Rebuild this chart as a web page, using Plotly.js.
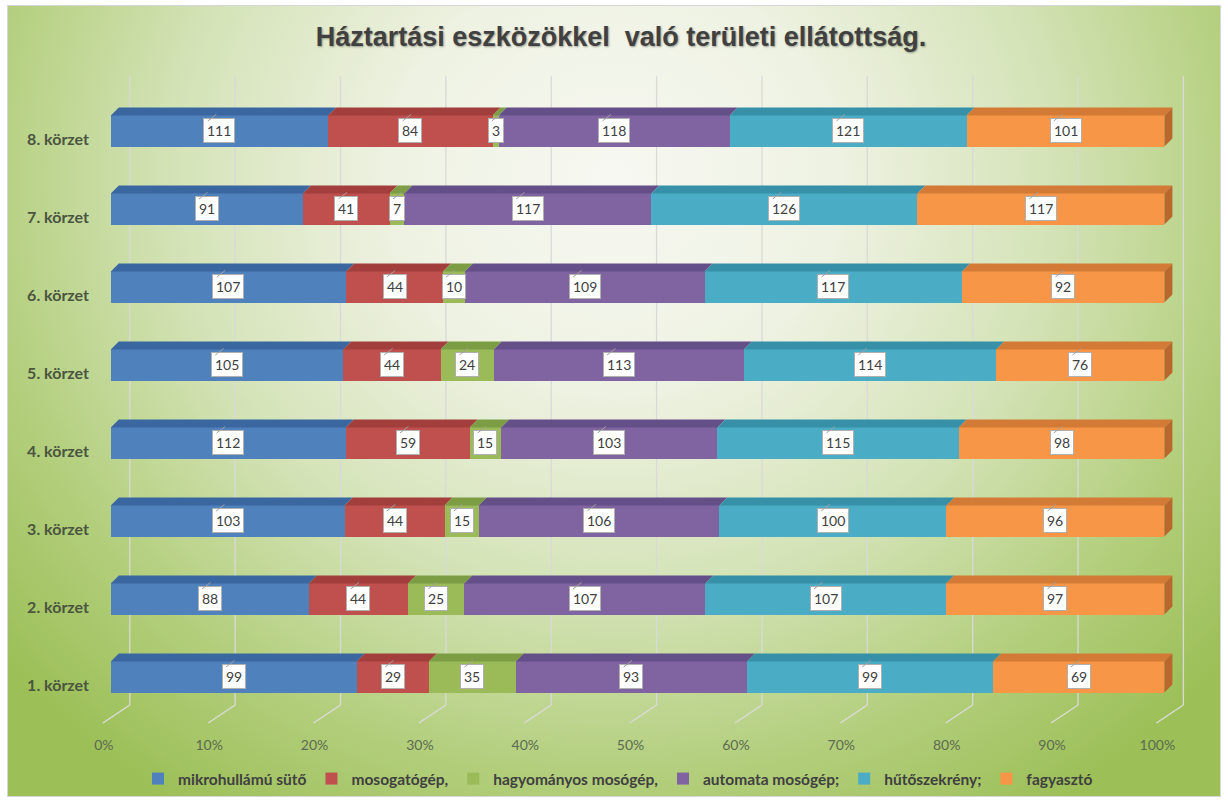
<!DOCTYPE html>
<html><head><meta charset="utf-8">
<script src="https://cdn.plot.ly/plotly-3.0.1.min.js"></script>
<style>
html,body{margin:0;padding:0;background:#fff;overflow:hidden;}
#frame{position:absolute;left:7px;top:5px;width:1212px;height:790px;border:1px solid #d6d6d6;
background:radial-gradient(ellipse 66% 95% at 50% 22%, #f7f8f2 0%, #eef2e2 28%, #d4e3b7 55%, #b2ce7b 80%, #9cbf57 100%);}
#chart{position:absolute;left:0;top:0;width:1228px;height:800px;}
</style></head>
<body><div id="frame"></div><div id="chart"></div>
<script>
// ---- data ----
const districts = ['1. körzet','2. körzet','3. körzet','4. körzet','5. körzet','6. körzet','7. körzet','8. körzet'];
const seriesNames = ['mikrohullámú sütő','mosogatógép,','hagyományos mosógép,','automata mosógép;','hűtőszekrény;','fagyasztó'];
const microwave        = [99, 88, 103, 112, 105, 107, 91, 111];
const dishwasher       = [29, 44, 44, 59, 44, 44, 41, 84];
const washerTraditional= [35, 25, 15, 15, 24, 10, 7, 3];
const washerAutomatic  = [93, 107, 106, 103, 113, 109, 117, 118];
const fridge           = [99, 107, 100, 115, 114, 117, 126, 121];
const freezer          = [69, 97, 96, 98, 76, 92, 117, 101];
const xTickVals   = [0,10,20,30,40,50,60,70,80,90,100];
const xTickLabels = ['0%','10%','20%','30%','40%','50%','60%','70%','80%','90%','100%'];

// ---- styling ----
const seriesValues = [microwave, dishwasher, washerTraditional, washerAutomatic, fridge, freezer];
const frontColors = ['#4f81bd','#c0504d','#9bbb59','#8064a2','#4bacc6','#f79646'];
const topColors   = ['#3b67a0','#a23f3c','#7d9d45','#654f88','#3690a8','#d27a36'];
const sideColor   = '#b9672c';

const W = 1228, H = 800;
const M = {l:95, r:32, t:60, b:67};
const xRange = [-1.5, 103];
const yRange = [0.282, 8.91];
const pxX = (W - M.l - M.r) / (xRange[1] - xRange[0]);
const pxY = (H - M.t - M.b) / (yRange[1] - yRange[0]);
const halfW = 0.2;
const DX = 8 / pxX, DY = 8 / pxY;           // top face depth
const BACKX = 19 / pxX, FRONTX = -8 / pxX;  // grid wall offsets
const floorFrontY = 1 - 46 / pxY, floorBackY = 1 - 28 / pxY, wallTopY = 1 + 601 / pxY;

const yPos = districts.map((d, i) => i + 1);
const totals = yPos.map((_, i) => seriesValues.reduce((s, arr) => s + arr[i], 0));
const cumStart = [], cumEnd = [];
{
  const run = yPos.map(() => 0);
  seriesValues.forEach((arr, k) => {
    cumStart[k] = run.slice();
    arr.forEach((v, i) => { run[i] += v / totals[i] * 100; });
    cumEnd[k] = run.slice();
  });
}

const traces = [];
seriesValues.forEach((arr, k) => {
  traces.push({
    type: 'bar', orientation: 'h', name: seriesNames[k],
    x: arr, y: yPos, width: 2 * halfW,
    marker: {color: frontColors[k], line: {width: 0}},
    hoverinfo: 'skip'
  });
});
seriesValues.forEach((arr, k) => {
  const xs = [], ys = [];
  yPos.forEach((y, i) => {
    const a = cumStart[k][i], b = cumEnd[k][i], yt = y + halfW;
    xs.push(a, b, b + DX, a + DX, a, null);
    ys.push(yt, yt, yt + DY, yt + DY, yt, null);
  });
  traces.push({type: 'scatter', mode: 'lines', x: xs, y: ys, fill: 'toself',
    fillcolor: topColors[k], line: {width: 0, color: topColors[k]}, showlegend: false, hoverinfo: 'skip'});
});
{
  const last = seriesValues.length - 1;
  const xs = [], ys = [];
  yPos.forEach((y, i) => {
    const e = cumEnd[last][i];
    xs.push(e, e, e + DX, e + DX, e, null);
    ys.push(y - halfW, y + halfW, y + halfW + DY, y - halfW + DY, y - halfW, null);
  });
  traces.push({type: 'scatter', mode: 'lines', x: xs, y: ys, fill: 'toself',
    fillcolor: sideColor, line: {width: 0, color: sideColor}, showlegend: false, hoverinfo: 'skip'});
}

const shapes = [];
xTickVals.forEach(t => {
  shapes.push({type: 'line', layer: 'below', xref: 'x', yref: 'y',
    x0: t + BACKX, x1: t + BACKX, y0: floorBackY, y1: wallTopY, line: {color: '#d9d9d9', width: 1.3}});
  shapes.push({type: 'line', layer: 'below', xref: 'x', yref: 'y',
    x0: t + FRONTX, x1: t + BACKX, y0: floorFrontY, y1: floorBackY, line: {color: '#dcdcdc', width: 1.3}});
});

const annotations = [];
seriesValues.forEach((arr, k) => {
  yPos.forEach((y, i) => {
    const mid = (cumStart[k][i] + cumEnd[k][i]) / 2;
    const txt = String(arr[i]);
    annotations.push({x: mid, y: y, xref: 'x', yref: 'y', text: txt, showarrow: false,
      font: {family: 'Lato, sans-serif', size: 14, color: '#404040'},
      bgcolor: '#ffffff', bordercolor: '#b0b0b0', borderwidth: 1, borderpad: 3});
    const bw = txt.length * 7.8 + 8;
    annotations.push({x: mid, y: y, xref: 'x', yref: 'y', text: ' ', showarrow: true,
      xshift: -bw / 2 + 4, yshift: 10, ax: 9, ay: -7, arrowhead: 0, arrowwidth: 1,
      arrowcolor: '#a0a0a0', font: {size: 1}, borderpad: 0});
  });
});

const layout = {
  width: W, height: H,
  margin: M,
  paper_bgcolor: 'rgba(0,0,0,0)', plot_bgcolor: 'rgba(0,0,0,0)',
  barmode: 'stack', barnorm: 'percent',
  title: {text: 'Háztartási eszközökkel\u00a0 való területi ellátottság.',
    font: {family: 'Liberation Sans, Arial, sans-serif', size: 27, color: '#404040', weight: 700,
      shadow: '1px 1px 2px rgba(0,0,0,0.35)'},
    xref: 'container', yref: 'container', x: 621 / W, y: 1 - 37 / H, xanchor: 'center', yanchor: 'middle'},
  xaxis: {range: xRange, tickvals: xTickVals, ticktext: xTickLabels, showgrid: false, zeroline: false,
    showline: false, ticks: '', ticklabelshift: -7, ticklabelstandoff: 2,
    tickfont: {family: 'Lato, sans-serif', size: 14, color: '#5b6b4f'}},
  yaxis: {range: yRange, tickvals: yPos, ticktext: districts, showgrid: false, zeroline: false,
    showline: false, ticks: '', ticklabelshift: 8, ticklabelstandoff: 5,
    tickfont: {family: 'Lato, sans-serif', size: 16, color: '#4a5540', weight: 700}},
  legend: {orientation: 'h', xref: 'container', yref: 'container', x: 618 / W, y: 1 - 779 / H,
    xanchor: 'center', yanchor: 'middle', itemwidth: 30, traceorder: 'normal',
    font: {family: 'Lato, sans-serif', size: 15.5, color: '#404040', weight: 700}},
  shapes: shapes,
  annotations: annotations,
  showlegend: true
};

Plotly.newPlot('chart', traces, layout, {staticPlot: true, displayModeBar: false});
</script>
</body></html>
